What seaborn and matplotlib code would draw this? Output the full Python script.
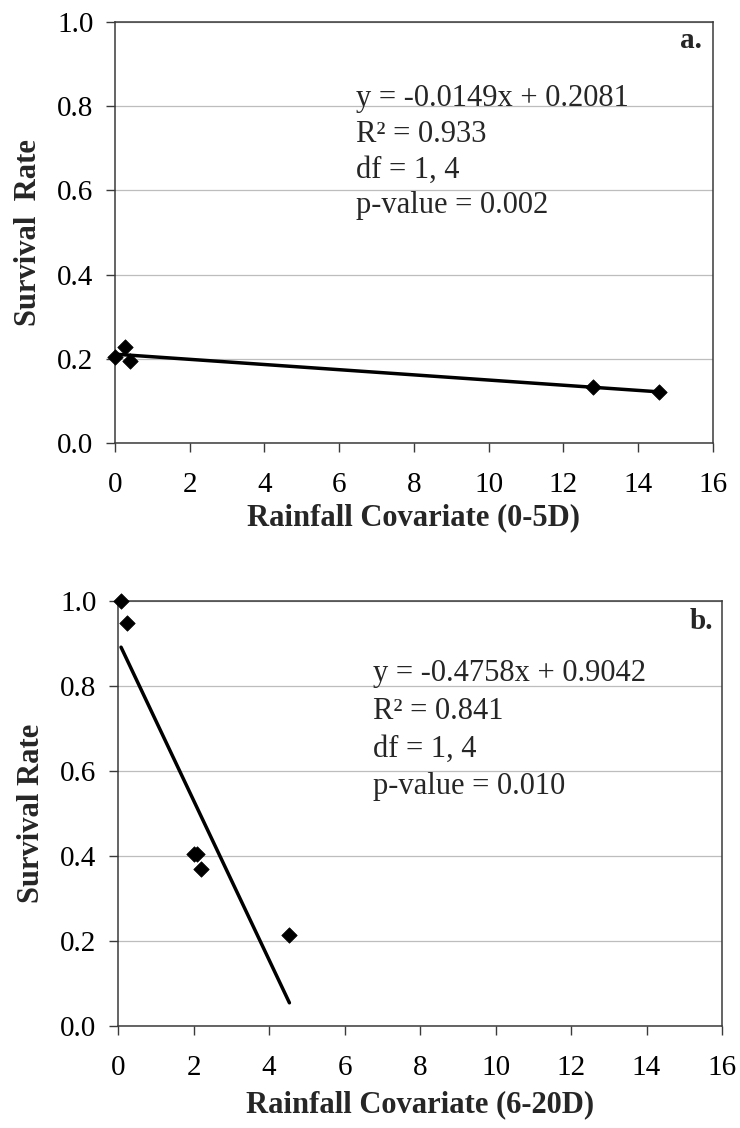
import matplotlib
matplotlib.use("Agg")
import matplotlib.pyplot as plt
import seaborn as sns

# survival rate vs rainfall covariate, two windows
rain_0_5 = [0.0, 0.27, 0.40, 12.8, 14.56]
surv_0_5 = [0.205, 0.229, 0.196, 0.134, 0.121]

rain_6_20 = [0.08, 0.25, 2.0, 2.1, 2.2, 4.54]
surv_6_20 = [1.0, 0.948, 0.404, 0.404, 0.370, 0.213]

stats_a = ["y = -0.0149x + 0.2081", "R\u00b2 = 0.933", "df = 1, 4", "p-value = 0.002"]
stats_b = ["y = -0.4758x + 0.9042", "R\u00b2 = 0.841", "df = 1, 4", "p-value = 0.010"]

x_ticks = list(range(0, 17, 2))
y_ticks = [0.0, 0.2, 0.4, 0.6, 0.8, 1.0]

sns.set_style("ticks")
plt.rcParams["font.family"] = ["Liberation Serif", "DejaVu Serif"]

fig = plt.figure(figsize=(7.4, 11.28), dpi=100)
ax_a = fig.add_axes([0.1554, 0.607, 0.808, 0.3738])
ax_b = fig.add_axes([0.1595, 0.0904, 0.8162, 0.3772])


def draw_panel(ax, x, y, stats, tag, xlabel, ylabel, text_x, text_y, xlab_y, tag_xy):
    sns.regplot(x=x, y=y, ax=ax, ci=None, truncate=True, marker="D",
                scatter_kws={"s": 62, "color": "black", "edgecolor": "black",
                             "linewidths": 0.5, "alpha": 1.0, "zorder": 4,
                             "clip_on": False},
                line_kws={"color": "black", "linewidth": 2.5, "zorder": 3})
    ax.set_xlim(0, 16)
    ax.set_ylim(0, 1.0)
    ax.set_xticks(x_ticks)
    ax.set_yticks(y_ticks)
    ax.set_yticklabels([f"{v:.1f}" for v in y_ticks])
    ax.yaxis.grid(True, color="#bdbdbd", linewidth=0.9)
    ax.set_axisbelow(True)
    for sp in ax.spines.values():
        sp.set_color("#3a3a3a")
        sp.set_linewidth(1.1)
    ax.tick_params(axis="both", direction="out", length=6.5, width=1.0,
                   color="#3a3a3a", labelsize=21, labelcolor="black")
    ax.tick_params(axis="x", pad=14)
    ax.tick_params(axis="y", pad=9)
    ax.set_xlabel(xlabel, fontsize=22, fontweight="bold")
    ax.set_ylabel(ylabel, fontsize=22, fontweight="bold")
    ax.xaxis.set_label_coords(0.5, xlab_y)
    ax.yaxis.set_label_coords(-0.12, 0.5)
    for line, ty in zip(stats, text_y):
        ax.text(text_x, ty, line, fontsize=22, va="baseline", ha="left")
    ax.text(tag_xy[0], tag_xy[1], tag, transform=ax.transAxes, fontsize=21,
            fontweight="bold", ha="right", va="baseline")


draw_panel(ax_a, rain_0_5, surv_0_5, stats_a, "a.",
           "Rainfall Covariate (0-5D)", "Survival  Rate",
           6.45, [0.800, 0.714, 0.630, 0.546], -0.1416, (0.981, 0.938))
draw_panel(ax_b, rain_6_20, surv_6_20, stats_b, "b.",
           "Rainfall Covariate (6-20D)", "Survival Rate",
           6.75, [0.810, 0.721, 0.633, 0.545], -0.150, (0.985, 0.933))

fig.savefig("out.png", dpi=100, facecolor="white")
